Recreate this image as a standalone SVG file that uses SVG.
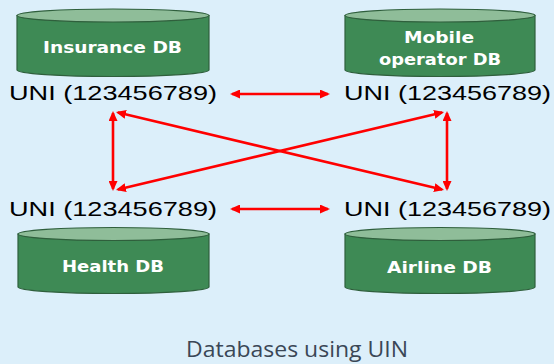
<svg xmlns="http://www.w3.org/2000/svg" width="554" height="364" viewBox="0 0 554 364">
  <style>
    .body { fill: #3e8a55; stroke: #2f5f3c; stroke-width: 1.2; }
    .top { fill: #8fbd99; stroke: #2f5f3c; stroke-width: 1.2; }
    .lbl { font-family: "DejaVu Sans", "Liberation Sans", sans-serif; font-weight: bold; font-size: 16px; fill: #ffffff; text-anchor: middle; }
    .uni { font-family: "Liberation Sans", "DejaVu Sans", sans-serif; font-size: 21px; fill: #000000; }
    .arr { stroke: #ff0000; stroke-width: 2.6; fill: none; marker-start: url(#ah); marker-end: url(#ah); }
    .title { font-family: "Open Sans", "Liberation Sans", sans-serif; font-size: 21px; fill: #3a4756; }
  </style>
  <defs>
    <marker id="ah" markerUnits="userSpaceOnUse" markerWidth="10" markerHeight="9" viewBox="0 0 10 9" refX="8" refY="4.5" orient="auto-start-reverse">
      <path d="M0,0 L10,4.5 L0,9 z" fill="#ff0000"/>
    </marker>
  </defs>
  <rect x="0" y="0" width="554" height="364" fill="#dceffa"/>

  <g id="insurance-db">
    <path class="body" d="M17,15.5 L17,70 A96,6.5 0 0 0 209,70 L209,15.5 Z"/>
    <ellipse class="top" cx="113" cy="15.5" rx="96" ry="6.5"/>
    <text class="lbl" x="112.5" y="53" textLength="139" lengthAdjust="spacingAndGlyphs">Insurance DB</text>
  </g>

  <g id="mobile-db">
    <path class="body" d="M345,15.5 L345,70 A95,6.5 0 0 0 535,70 L535,15.5 Z"/>
    <ellipse class="top" cx="440" cy="15.5" rx="95" ry="6.5"/>
    <text class="lbl" x="439" y="43" textLength="70" lengthAdjust="spacingAndGlyphs">Mobile</text>
    <text class="lbl" x="440" y="65" textLength="122" lengthAdjust="spacingAndGlyphs">operator DB</text>
  </g>

  <g id="health-db">
    <path class="body" d="M18,234 L18,287 A95.5,6.5 0 0 0 209,287 L209,234 Z"/>
    <ellipse class="top" cx="113.5" cy="234" rx="95.5" ry="6.5"/>
    <text class="lbl" x="113" y="272" textLength="102" lengthAdjust="spacingAndGlyphs">Health DB</text>
  </g>

  <g id="airline-db">
    <path class="body" d="M345,234 L345,287 A95,6.5 0 0 0 535,287 L535,234 Z"/>
    <ellipse class="top" cx="440" cy="234" rx="95" ry="6.5"/>
    <text class="lbl" x="439.5" y="273" textLength="105" lengthAdjust="spacingAndGlyphs">Airline DB</text>
  </g>

  <g id="uni-tl"><text class="uni" x="9" y="100" textLength="208" lengthAdjust="spacingAndGlyphs">UNI (123456789)</text></g>
  <g id="uni-tr"><text class="uni" x="344" y="100" textLength="207" lengthAdjust="spacingAndGlyphs">UNI (123456789)</text></g>
  <g id="uni-bl"><text class="uni" x="9" y="216" textLength="208" lengthAdjust="spacingAndGlyphs">UNI (123456789)</text></g>
  <g id="uni-br"><text class="uni" x="344" y="216" textLength="207" lengthAdjust="spacingAndGlyphs">UNI (123456789)</text></g>

  <g id="connectors">
    <line class="arr" x1="232" y1="94" x2="328" y2="94"/>
    <line class="arr" x1="232" y1="209" x2="328" y2="209"/>
    <line class="arr" x1="113" y1="113" x2="113" y2="189"/>
    <line class="arr" x1="447" y1="113" x2="447" y2="189"/>
    <line class="arr" x1="117.9" y1="112.5" x2="442.1" y2="189.5"/>
    <line class="arr" x1="117.9" y1="189.5" x2="442.1" y2="112.5"/>
  </g>

  <text class="title" x="186" y="357" textLength="222" lengthAdjust="spacingAndGlyphs">Databases using UIN</text>
</svg>
